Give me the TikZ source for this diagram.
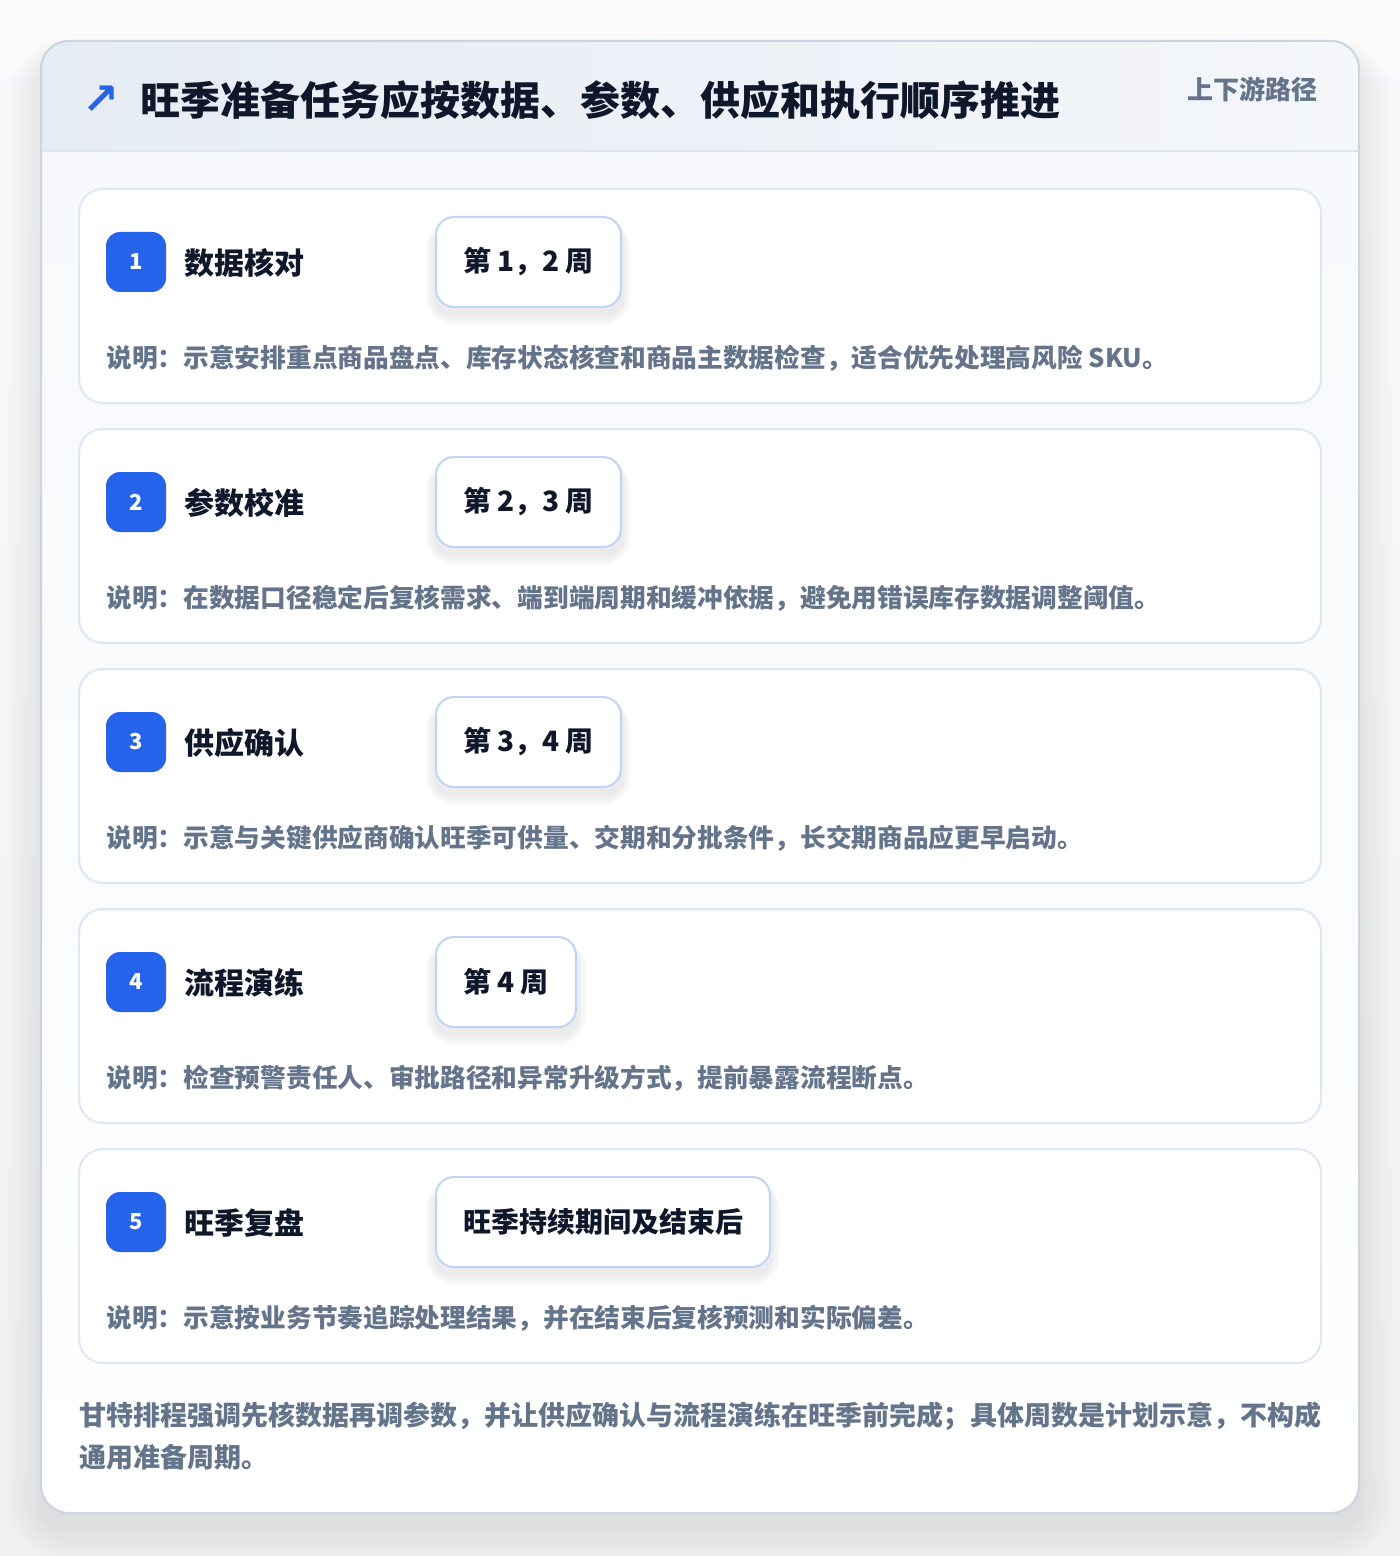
\documentclass[tikz,border=0pt]{standalone}
\usepackage{fontspec}
\setmainfont{Noto Sans CJK SC}
\newfontfamily\symfont{DejaVu Sans}
\usetikzlibrary{calc}
\pgfdeclarelayer{back}
\pgfdeclarelayer{cards}
\pgfdeclarelayer{shadowl}
\pgfsetlayers{back,cards,shadowl,main}
\definecolor{pagetop}{HTML}{FAFAFB}
\definecolor{pagebot}{HTML}{EFF0F2}
\definecolor{hdrL}{HTML}{E6ECF4}
\definecolor{hdrR}{HTML}{F4F6FA}
\definecolor{hdrline}{HTML}{DCE6F3}
\definecolor{outerline}{HTML}{CBD5E1}
\definecolor{bodytop}{HTML}{F7F9FC}
\definecolor{cardline}{HTML}{DCE8F8}
\definecolor{pillline}{HTML}{BFD5F3}
\definecolor{accent}{HTML}{2563EB}
\definecolor{ink}{HTML}{0F172A}
\definecolor{muted}{HTML}{64748B}
\tikzset{
  cardbox/.style={draw=cardline, line width=1pt, fill=white, rounded corners=12pt},
  badge/.style={fill=accent, rounded corners=7pt, minimum width=30pt, minimum height=30pt, inner sep=0pt, text=white, font=\fontsize{11}{13}\selectfont\bfseries},
  taskname/.style={anchor=west, inner sep=0pt, text=ink, font=\fontsize{15}{18}\selectfont\bfseries},
  pill/.style={anchor=west, draw=pillline, line width=1pt, fill=white, rounded corners=9pt, minimum height=45pt, inner xsep=13.5pt, text=ink, font=\fontsize{14}{17}\selectfont\bfseries},
  desc/.style={anchor=west, inner sep=0pt, text=muted, font=\fontsize{12.85}{15}\selectfont\bfseries},
  shadowlayer/.style={fill=black, opacity=0.012},
}
\begin{document}
\begin{tikzpicture}[x=0.5pt,y=-0.5pt]
\useasboundingbox (0,0) rectangle (1400,1556);
\begin{pgfonlayer}{back}
\shade[top color=pagetop, bottom color=pagebot] (0,0) rectangle (1400,1556);
% outer card shadow
\foreach \k in {1,...,18}{
  \pgfmathsetmacro{\rr}{14+\k}
  \fill[shadowlayer, opacity=0.0055, rounded corners=\rr pt] (41-2*\k,41-\k+16) rectangle (1359+2*\k,1513+2*\k+14);
}
\begin{scope}
  \clip[rounded corners=14pt] (41,41) rectangle (1359,1513);
  \shade[top color=bodytop, bottom color=white] (41,151) rectangle (1359,1513);
  \shade[left color=hdrL, right color=hdrR] (41,41) rectangle (1359,151);
\end{scope}
\draw[hdrline, line width=1pt] (41,151) -- (1359,151);
\draw[outerline, line width=1pt, rounded corners=14pt] (41,41) rectangle (1359,1513);
\end{pgfonlayer}
% header
\node[text=accent, font=\fontsize{22}{24}\selectfont\symfont\bfseries, inner sep=0pt] (icon) at (101,100) {↗};
\node[anchor=west, inner sep=0pt, text=ink, font=\fontsize{20}{24}\selectfont\bfseries] (title) at (140,100) {旺季准备任务应按数据、参数、供应和执行顺序推进};
\node[anchor=east, inner sep=0pt, text=muted, font=\fontsize{13}{16}\selectfont\bfseries] (tag) at (1318,89) {上下游路径};
% cards
\foreach \i/\n/\task/\wk/\ds in {
 0/1/数据核对/{第 1，2 周}/{说明：示意安排重点商品盘点、库存状态核查和商品主数据检查，适合优先处理高风险 SKU。},
 1/2/参数校准/{第 2，3 周}/{说明：在数据口径稳定后复核需求、端到端周期和缓冲依据，避免用错误库存数据调整阈值。},
 2/3/供应确认/{第 3，4 周}/{说明：示意与关键供应商确认旺季可供量、交期和分批条件，长交期商品应更早启动。},
 3/4/流程演练/{第 4 周}/{说明：检查预警责任人、审批路径和异常升级方式，提前暴露流程断点。},
 4/5/旺季复盘/{旺季持续期间及结束后}/{说明：示意按业务节奏追踪处理结果，并在结束后复核预测和实际偏差。}}
{
  \pgfmathsetmacro{\top}{189+240*\i}
  \begin{pgfonlayer}{cards}
  \draw[cardbox] (79,\top) rectangle (1321,\top+214);
  \end{pgfonlayer}
  \node[badge] (b\n) at (136,\top+73) {\n};
  \node[taskname] (t\n) at (184,\top+74) {\task};
  \node[pill] (w\n) at (435,\top+73) {\wk};
  \begin{pgfonlayer}{shadowl}
  \foreach \k in {1,...,10}{
    \pgfmathsetmacro{\rr}{9+\k*0.6}
    \fill[shadowlayer, opacity=0.0065, rounded corners=\rr pt] ($(w\n.north west)+(-\k,8-0.5*\k)$) rectangle ($(w\n.south east)+(\k,8+\k)$);
  }
  \end{pgfonlayer}
  \node[desc] (d\n) at (106,\top+169) {\ds};
}
% footer
\node[anchor=west, align=left, inner sep=0pt, text=muted, font=\fontsize{13.5}{21}\selectfont\bfseries] (foot) at (79,1436) {甘特排程强调先核数据再调参数，并让供应确认与流程演练在旺季前完成；具体周数是计划示意，不构成\\通用准备周期。};
\end{tikzpicture}
\end{document}
